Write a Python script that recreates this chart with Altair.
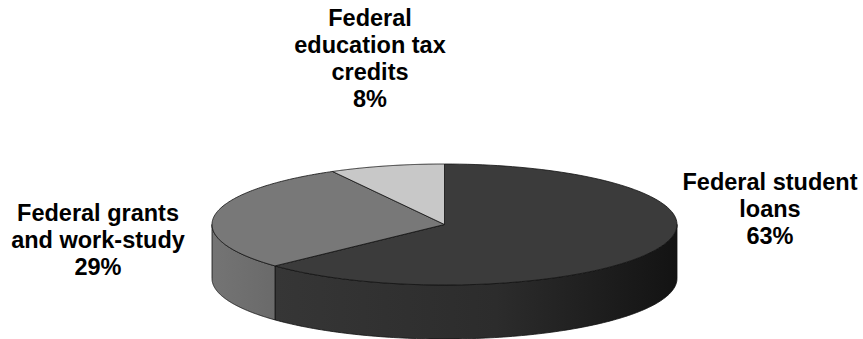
import altair as alt
import pandas as pd

# ---- data ----
categories = ["Federal student loans", "Federal grants and work-study", "Federal education tax credits"]
shares = [63, 29, 8]
label_lines = ["Federal student\nloans", "Federal grants\nand work-study", "Federal\neducation tax\ncredits"]

# ---- styles / layout ----
top_colors = ["#3b3b3b", "#787878", "#c8c8c8"]
loans_side = alt.LinearGradient(
    gradient="linear",
    stops=[alt.GradientStop(color="#363636", offset=0),
           alt.GradientStop(color="#2c2c2c", offset=0.55),
           alt.GradientStop(color="#131313", offset=1)],
    x1=0, x2=1, y1=0, y2=0)
grants_side = alt.LinearGradient(
    gradient="linear",
    stops=[alt.GradientStop(color="#747474", offset=0),
           alt.GradientStop(color="#6a6a6a", offset=1)],
    x1=0, x2=1, y1=0, y2=0)
side_fills = [loans_side, grants_side, "#bdbdbd"]
label_x = [770, 98, 370]
label_y = [190, 221, 26]

W, H = 863, 339
CX, CY, RX, RY, DEPTH = 444.5, 224.5, 232.5, 60.5, 54
TILT = RY / RX
D = DEPTH / RX
N = 120

df = pd.DataFrame({"cat": categories, "share": shares, "idx": list(range(len(categories))), "label": label_lines})

xs = alt.Scale(domain=[(0 - CX) / RX, (W - CX) / RX], nice=False, zero=False)
ys = alt.Scale(domain=[(CY - H) / RX, CY / RX], nice=False, zero=False)

base = (
    alt.Chart(df)
    .transform_joinaggregate(total="sum(share)")
    .transform_window(cum="sum(share)", sort=[alt.SortField("idx")], frame=[None, 0])
    .transform_calculate(a0="2*PI*(datum.cum-datum.share)/datum.total")
    .transform_calculate(a1="2*PI*datum.cum/datum.total")
)

layers = []

# side walls (front half only)
for i, fill in enumerate(side_fills):
    side = (
        base.transform_filter(f"datum.idx == {i}")
        .transform_calculate(s0="max(datum.a0, PI/2)")
        .transform_calculate(s1="min(datum.a1, 3*PI/2)")
        .transform_filter("datum.s1 > datum.s0")
        .transform_calculate(k=f"sequence(0, {2 * N + 2})")
        .transform_flatten(["k"])
        .transform_calculate(
            t=f"datum.k <= {N} ? datum.s0 + (datum.s1-datum.s0)*datum.k/{N} : datum.s1 - (datum.s1-datum.s0)*(datum.k-{N + 1})/{N}")
        .transform_calculate(px="sin(datum.t)")
        .transform_calculate(py=f"{TILT}*cos(datum.t) - (datum.k > {N} ? {D} : 0)")
        .mark_line(interpolate="linear-closed", fill=fill, stroke="#111111", strokeWidth=0.8, strokeJoin="round")
        .encode(
            x=alt.X("px:Q", scale=xs, axis=None),
            y=alt.Y("py:Q", scale=ys, axis=None),
            order=alt.Order("k:Q"),
            detail="cat:N",
        )
    )
    layers.append(side)

# top faces
top = (
    base.transform_calculate(k=f"sequence(0, {N + 2})")
    .transform_flatten(["k"])
    .transform_calculate(t=f"datum.a0 + (datum.a1-datum.a0)*(datum.k-1)/{N}")
    .transform_calculate(px="datum.k == 0 ? 0 : sin(datum.t)")
    .transform_calculate(py=f"datum.k == 0 ? 0 : {TILT}*cos(datum.t)")
    .mark_line(interpolate="linear-closed", stroke="#111111", strokeWidth=0.8, strokeJoin="round")
    .encode(
        x=alt.X("px:Q", scale=xs, axis=None),
        y=alt.Y("py:Q", scale=ys, axis=None),
        order=alt.Order("k:Q"),
        detail="cat:N",
        fill=alt.Fill("cat:N", scale=alt.Scale(domain=categories, range=top_colors), legend=None),
    )
)
layers.append(top)

# labels
for i in range(len(categories)):
    txt = (
        alt.Chart(df)
        .transform_filter(f"datum.idx == {i}")
        .transform_calculate(txt="datum.label + '\\n' + datum.share + '%'")
        .mark_text(font="Liberation Sans", fontWeight="bold", fontSize=23.5, lineBreak="\n",
                   lineHeight=27, align="center", baseline="alphabetic", color="#000000")
        .encode(x=alt.value(label_x[i]), y=alt.value(label_y[i]), text="txt:N")
    )
    layers.append(txt)

chart = (
    alt.layer(*layers)
    .properties(width=W, height=H, padding=0, autosize=alt.AutoSizeParams(type="none"))
    .configure_view(stroke=None)
)

chart.save("out.html", embed_options={"renderer": "svg", "actions": False})
